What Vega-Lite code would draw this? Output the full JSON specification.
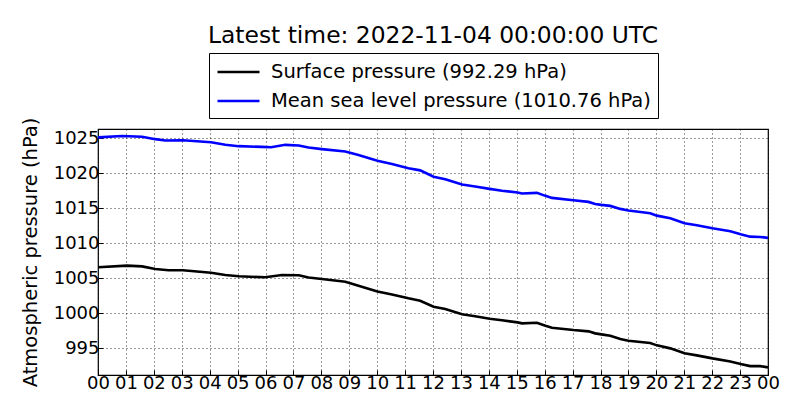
{
  "$schema": "https://vega.github.io/schema/vega-lite/v6.json",
  "width": 670,
  "height": 246,
  "autosize": {"type": "none"},
  "padding": {"left": 98, "top": 129, "right": 32, "bottom": 45},
  "background": "white",
  "title": {
    "text": "Latest time: 2022-11-04 00:00:00 UTC",
    "font": "DejaVu Sans",
    "fontSize": 23.4,
    "fontWeight": "normal",
    "color": "black",
    "anchor": "middle",
    "offset": 4
  },
  "config": {
    "font": "DejaVu Sans",
    "view": {"stroke": "black", "strokeWidth": 1.2},
    "axis": {
      "labelFont": "DejaVu Sans",
      "labelFontSize": 18,
      "labelColor": "black",
      "titleFont": "DejaVu Sans",
      "titleFontSize": 19.5,
      "titleFontWeight": "normal",
      "titleColor": "black",
      "domain": false,
      "tickColor": "black",
      "tickSize": -5,
      "gridColor": "black",
      "gridDash": [1, 3],
      "gridWidth": 0.8,
      "gridOpacity": 1
    }
  },
  "data": {
    "values": [
      {"hour": 0, "series": "Mean sea level pressure (1010.76 hPa)", "p": 1025.1},
      {"hour": 0.86, "series": "Mean sea level pressure (1010.76 hPa)", "p": 1025.3},
      {"hour": 1.58, "series": "Mean sea level pressure (1010.76 hPa)", "p": 1025.2},
      {"hour": 2.05, "series": "Mean sea level pressure (1010.76 hPa)", "p": 1024.85},
      {"hour": 2.41, "series": "Mean sea level pressure (1010.76 hPa)", "p": 1024.65},
      {"hour": 3.04, "series": "Mean sea level pressure (1010.76 hPa)", "p": 1024.7},
      {"hour": 4.05, "series": "Mean sea level pressure (1010.76 hPa)", "p": 1024.4},
      {"hour": 4.56, "series": "Mean sea level pressure (1010.76 hPa)", "p": 1024.05},
      {"hour": 5.04, "series": "Mean sea level pressure (1010.76 hPa)", "p": 1023.85},
      {"hour": 5.87, "series": "Mean sea level pressure (1010.76 hPa)", "p": 1023.75},
      {"hour": 6.2, "series": "Mean sea level pressure (1010.76 hPa)", "p": 1023.7},
      {"hour": 6.71, "series": "Mean sea level pressure (1010.76 hPa)", "p": 1024.04},
      {"hour": 7.19, "series": "Mean sea level pressure (1010.76 hPa)", "p": 1023.95},
      {"hour": 7.54, "series": "Mean sea level pressure (1010.76 hPa)", "p": 1023.66},
      {"hour": 8.02, "series": "Mean sea level pressure (1010.76 hPa)", "p": 1023.43},
      {"hour": 8.86, "series": "Mean sea level pressure (1010.76 hPa)", "p": 1023.1},
      {"hour": 9.33, "series": "Mean sea level pressure (1010.76 hPa)", "p": 1022.6},
      {"hour": 10.01, "series": "Mean sea level pressure (1010.76 hPa)", "p": 1021.76},
      {"hour": 10.53, "series": "Mean sea level pressure (1010.76 hPa)", "p": 1021.3},
      {"hour": 11.12, "series": "Mean sea level pressure (1010.76 hPa)", "p": 1020.7},
      {"hour": 11.54, "series": "Mean sea level pressure (1010.76 hPa)", "p": 1020.4},
      {"hour": 12.02, "series": "Mean sea level pressure (1010.76 hPa)", "p": 1019.5},
      {"hour": 12.44, "series": "Mean sea level pressure (1010.76 hPa)", "p": 1019.14},
      {"hour": 13.04, "series": "Mean sea level pressure (1010.76 hPa)", "p": 1018.37},
      {"hour": 13.51, "series": "Mean sea level pressure (1010.76 hPa)", "p": 1018.09},
      {"hour": 14.03, "series": "Mean sea level pressure (1010.76 hPa)", "p": 1017.76},
      {"hour": 14.47, "series": "Mean sea level pressure (1010.76 hPa)", "p": 1017.5},
      {"hour": 15.03, "series": "Mean sea level pressure (1010.76 hPa)", "p": 1017.23},
      {"hour": 15.19, "series": "Mean sea level pressure (1010.76 hPa)", "p": 1017.1},
      {"hour": 15.72, "series": "Mean sea level pressure (1010.76 hPa)", "p": 1017.19},
      {"hour": 16.03, "series": "Mean sea level pressure (1010.76 hPa)", "p": 1016.76},
      {"hour": 16.26, "series": "Mean sea level pressure (1010.76 hPa)", "p": 1016.47},
      {"hour": 17.03, "series": "Mean sea level pressure (1010.76 hPa)", "p": 1016.14},
      {"hour": 17.57, "series": "Mean sea level pressure (1010.76 hPa)", "p": 1015.9},
      {"hour": 17.81, "series": "Mean sea level pressure (1010.76 hPa)", "p": 1015.6},
      {"hour": 18.03, "series": "Mean sea level pressure (1010.76 hPa)", "p": 1015.47},
      {"hour": 18.35, "series": "Mean sea level pressure (1010.76 hPa)", "p": 1015.33},
      {"hour": 18.71, "series": "Mean sea level pressure (1010.76 hPa)", "p": 1014.9},
      {"hour": 19.0, "series": "Mean sea level pressure (1010.76 hPa)", "p": 1014.66},
      {"hour": 19.78, "series": "Mean sea level pressure (1010.76 hPa)", "p": 1014.29},
      {"hour": 20.02, "series": "Mean sea level pressure (1010.76 hPa)", "p": 1013.94},
      {"hour": 20.5, "series": "Mean sea level pressure (1010.76 hPa)", "p": 1013.57},
      {"hour": 21.01, "series": "Mean sea level pressure (1010.76 hPa)", "p": 1012.86},
      {"hour": 21.45, "series": "Mean sea level pressure (1010.76 hPa)", "p": 1012.57},
      {"hour": 22.01, "series": "Mean sea level pressure (1010.76 hPa)", "p": 1012.14},
      {"hour": 22.65, "series": "Mean sea level pressure (1010.76 hPa)", "p": 1011.71},
      {"hour": 23.02, "series": "Mean sea level pressure (1010.76 hPa)", "p": 1011.29},
      {"hour": 23.36, "series": "Mean sea level pressure (1010.76 hPa)", "p": 1010.94},
      {"hour": 23.72, "series": "Mean sea level pressure (1010.76 hPa)", "p": 1010.9},
      {"hour": 24.0, "series": "Mean sea level pressure (1010.76 hPa)", "p": 1010.76},
      {"hour": 0, "series": "Surface pressure (992.29 hPa)", "p": 1006.57},
      {"hour": 1.04, "series": "Surface pressure (992.29 hPa)", "p": 1006.8},
      {"hour": 1.58, "series": "Surface pressure (992.29 hPa)", "p": 1006.7},
      {"hour": 2.05, "series": "Surface pressure (992.29 hPa)", "p": 1006.33},
      {"hour": 2.53, "series": "Surface pressure (992.29 hPa)", "p": 1006.14},
      {"hour": 3.04, "series": "Surface pressure (992.29 hPa)", "p": 1006.14},
      {"hour": 4.05, "series": "Surface pressure (992.29 hPa)", "p": 1005.8},
      {"hour": 4.56, "series": "Surface pressure (992.29 hPa)", "p": 1005.47},
      {"hour": 5.04, "series": "Surface pressure (992.29 hPa)", "p": 1005.29},
      {"hour": 5.99, "series": "Surface pressure (992.29 hPa)", "p": 1005.14},
      {"hour": 6.59, "series": "Surface pressure (992.29 hPa)", "p": 1005.47},
      {"hour": 7.19, "series": "Surface pressure (992.29 hPa)", "p": 1005.43},
      {"hour": 7.54, "series": "Surface pressure (992.29 hPa)", "p": 1005.1},
      {"hour": 8.02, "series": "Surface pressure (992.29 hPa)", "p": 1004.9},
      {"hour": 8.86, "series": "Surface pressure (992.29 hPa)", "p": 1004.5},
      {"hour": 9.33, "series": "Surface pressure (992.29 hPa)", "p": 1003.94},
      {"hour": 10.01, "series": "Surface pressure (992.29 hPa)", "p": 1003.1},
      {"hour": 10.53, "series": "Surface pressure (992.29 hPa)", "p": 1002.7},
      {"hour": 11.12, "series": "Surface pressure (992.29 hPa)", "p": 1002.14},
      {"hour": 11.54, "series": "Surface pressure (992.29 hPa)", "p": 1001.8},
      {"hour": 12.02, "series": "Surface pressure (992.29 hPa)", "p": 1000.94},
      {"hour": 12.44, "series": "Surface pressure (992.29 hPa)", "p": 1000.61},
      {"hour": 13.04, "series": "Surface pressure (992.29 hPa)", "p": 999.86},
      {"hour": 13.51, "series": "Surface pressure (992.29 hPa)", "p": 999.57},
      {"hour": 14.03, "series": "Surface pressure (992.29 hPa)", "p": 999.23},
      {"hour": 14.47, "series": "Surface pressure (992.29 hPa)", "p": 999.0},
      {"hour": 15.03, "series": "Surface pressure (992.29 hPa)", "p": 998.71},
      {"hour": 15.19, "series": "Surface pressure (992.29 hPa)", "p": 998.57},
      {"hour": 15.72, "series": "Surface pressure (992.29 hPa)", "p": 998.66},
      {"hour": 16.03, "series": "Surface pressure (992.29 hPa)", "p": 998.23},
      {"hour": 16.26, "series": "Surface pressure (992.29 hPa)", "p": 997.94},
      {"hour": 17.03, "series": "Surface pressure (992.29 hPa)", "p": 997.61},
      {"hour": 17.57, "series": "Surface pressure (992.29 hPa)", "p": 997.43},
      {"hour": 17.81, "series": "Surface pressure (992.29 hPa)", "p": 997.14},
      {"hour": 18.03, "series": "Surface pressure (992.29 hPa)", "p": 997.0},
      {"hour": 18.35, "series": "Surface pressure (992.29 hPa)", "p": 996.8},
      {"hour": 18.71, "series": "Surface pressure (992.29 hPa)", "p": 996.33},
      {"hour": 19.0, "series": "Surface pressure (992.29 hPa)", "p": 996.09},
      {"hour": 19.78, "series": "Surface pressure (992.29 hPa)", "p": 995.76},
      {"hour": 20.02, "series": "Surface pressure (992.29 hPa)", "p": 995.43},
      {"hour": 20.5, "series": "Surface pressure (992.29 hPa)", "p": 995.0},
      {"hour": 21.01, "series": "Surface pressure (992.29 hPa)", "p": 994.29},
      {"hour": 21.45, "series": "Surface pressure (992.29 hPa)", "p": 994.0},
      {"hour": 22.01, "series": "Surface pressure (992.29 hPa)", "p": 993.57},
      {"hour": 22.65, "series": "Surface pressure (992.29 hPa)", "p": 993.14},
      {"hour": 23.02, "series": "Surface pressure (992.29 hPa)", "p": 992.76},
      {"hour": 23.36, "series": "Surface pressure (992.29 hPa)", "p": 992.47},
      {"hour": 23.72, "series": "Surface pressure (992.29 hPa)", "p": 992.47},
      {"hour": 24.0, "series": "Surface pressure (992.29 hPa)", "p": 992.29}
    ]
  },
  "mark": {"type": "line", "strokeWidth": 2.6, "clip": true},
  "encoding": {
    "x": {
      "field": "hour",
      "type": "quantitative",
      "scale": {"domain": [0, 24], "nice": false},
      "axis": {
        "title": null,
        "values": [0, 1, 2, 3, 4, 5, 6, 7, 8, 9, 10, 11, 12, 13, 14, 15, 16, 17, 18, 19, 20, 21, 22, 23, 24],
        "labelExpr": "(datum.value % 24 < 10 ? '0' : '') + (datum.value % 24)",
        "labelPadding": 4,
        "labelOverlap": false,
        "labelFlush": false
      }
    },
    "y": {
      "field": "p",
      "type": "quantitative",
      "scale": {"domain": [991.2, 1026.3], "nice": false, "zero": false},
      "axis": {
        "title": "Atmospheric pressure (hPa)",
        "values": [995, 1000, 1005, 1010, 1015, 1020, 1025],
        "format": "d",
        "labelPadding": 4,
        "titlePadding": 13
      }
    },
    "color": {
      "field": "series",
      "type": "nominal",
      "sort": ["Surface pressure (992.29 hPa)", "Mean sea level pressure (1010.76 hPa)"],
      "scale": {
        "domain": ["Surface pressure (992.29 hPa)", "Mean sea level pressure (1010.76 hPa)"],
        "range": ["black", "#0000ff"]
      },
      "legend": {
        "title": null,
        "orient": "none",
        "legendX": 111,
        "legendY": -76,
        "strokeColor": "black",
        "fillColor": "white",
        "padding": 7,
        "labelFont": "DejaVu Sans",
        "labelFontSize": 19.5,
        "labelColor": "black",
        "labelLimit": 500,
        "symbolType": "M-1,0H3",
        "symbolSize": 441,
        "symbolStrokeWidth": 2.6,
        "labelOffset": 31,
        "rowPadding": 7
      }
    }
  }
}
